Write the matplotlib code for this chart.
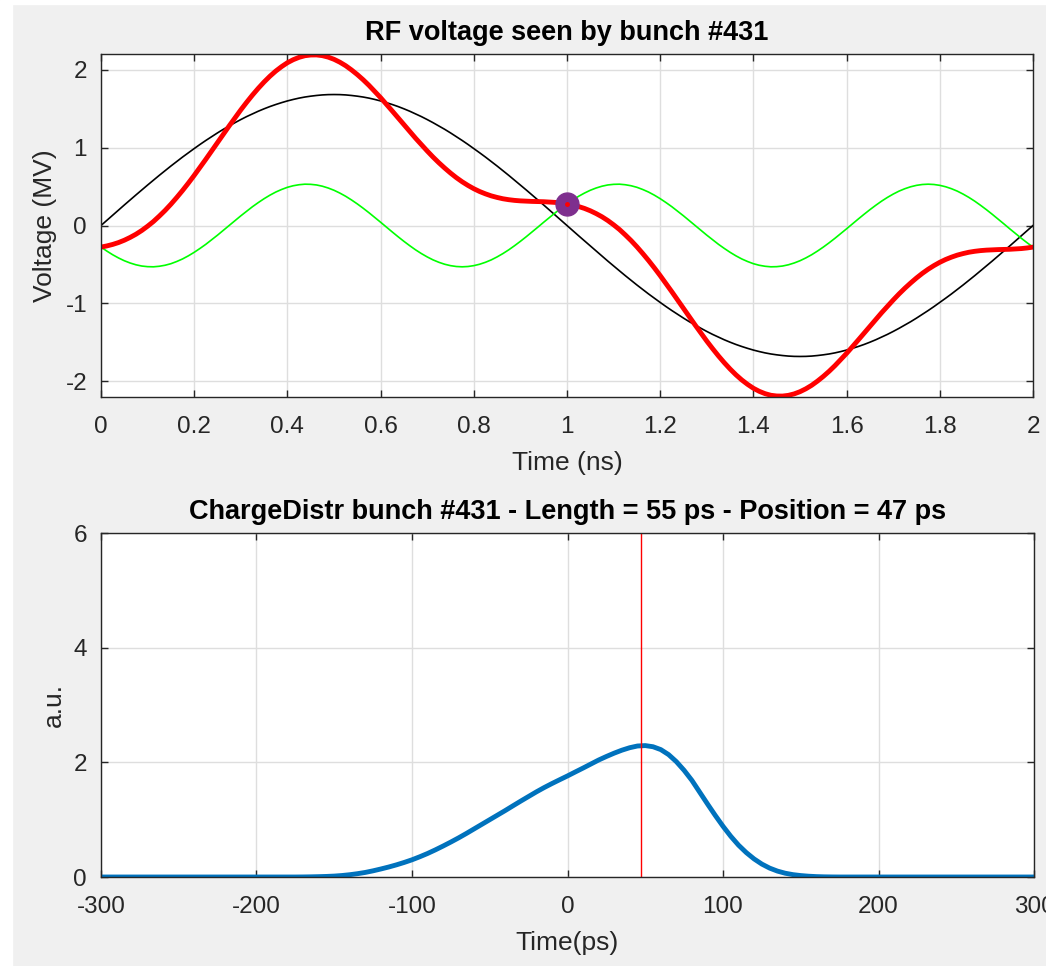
import matplotlib
matplotlib.use("Agg")
import matplotlib.pyplot as plt

plt.rcParams['font.family'] = ['Liberation Sans', 'DejaVu Sans']
plt.rcParams['axes.unicode_minus'] = False

# ---- data: RF voltage (top), sampled every 0.0125 ns ----
t_ns = [round(k * 0.0125, 4) for k in range(161)]
v_main = [0.000, 0.066, 0.132, 0.197, 0.263, 0.328, 0.392, 0.456, 0.519, 0.581,
          0.643, 0.703, 0.763, 0.821, 0.878, 0.933, 0.987, 1.040, 1.091, 1.140,
          1.188, 1.234, 1.277, 1.319, 1.359, 1.397, 1.432, 1.466, 1.497, 1.526,
          1.552, 1.576, 1.598, 1.617, 1.634, 1.648, 1.659, 1.668, 1.675, 1.679,
          1.680, 1.679, 1.675, 1.668, 1.659, 1.648, 1.634, 1.617, 1.598, 1.576,
          1.552, 1.526, 1.497, 1.466, 1.432, 1.397, 1.359, 1.319, 1.277, 1.234,
          1.188, 1.140, 1.091, 1.040, 0.987, 0.933, 0.878, 0.821, 0.763, 0.703,
          0.643, 0.581, 0.519, 0.456, 0.392, 0.328, 0.263, 0.197, 0.132, 0.066,
          0.000, -0.066, -0.132, -0.197, -0.263, -0.328, -0.392, -0.456, -0.519, -0.581,
          -0.643, -0.703, -0.763, -0.821, -0.878, -0.933, -0.987, -1.040, -1.091, -1.140,
          -1.188, -1.234, -1.277, -1.319, -1.359, -1.397, -1.432, -1.466, -1.497, -1.526,
          -1.552, -1.576, -1.598, -1.617, -1.634, -1.648, -1.659, -1.668, -1.675, -1.679,
          -1.680, -1.679, -1.675, -1.668, -1.659, -1.648, -1.634, -1.617, -1.598, -1.576,
          -1.552, -1.526, -1.497, -1.466, -1.432, -1.397, -1.359, -1.319, -1.277, -1.234,
          -1.188, -1.140, -1.091, -1.040, -0.987, -0.933, -0.878, -0.821, -0.763, -0.703,
          -0.643, -0.581, -0.519, -0.456, -0.392, -0.328, -0.263, -0.197, -0.132, -0.066,
          0.000]
v_harm = [-0.277, -0.328, -0.375, -0.416, -0.452, -0.481, -0.504, -0.520, -0.528, -0.530,
          -0.523, -0.510, -0.490, -0.462, -0.429, -0.389, -0.344, -0.294, -0.241, -0.183,
          -0.124, -0.062, 0.000, 0.062, 0.124, 0.183, 0.241, 0.294, 0.344, 0.389,
          0.429, 0.462, 0.490, 0.510, 0.523, 0.530, 0.528, 0.520, 0.504, 0.481,
          0.452, 0.416, 0.375, 0.328, 0.277, 0.222, 0.164, 0.103, 0.042, -0.021,
          -0.083, -0.144, -0.203, -0.259, -0.312, -0.360, -0.403, -0.441, -0.472, -0.497,
          -0.515, -0.526, -0.530, -0.526, -0.515, -0.497, -0.472, -0.441, -0.403, -0.360,
          -0.312, -0.259, -0.203, -0.144, -0.083, -0.021, 0.042, 0.103, 0.164, 0.222,
          0.277, 0.328, 0.375, 0.416, 0.452, 0.481, 0.504, 0.520, 0.528, 0.530,
          0.523, 0.510, 0.490, 0.462, 0.429, 0.389, 0.344, 0.294, 0.241, 0.183,
          0.124, 0.062, 0.000, -0.062, -0.124, -0.183, -0.241, -0.294, -0.344, -0.389,
          -0.429, -0.462, -0.490, -0.510, -0.523, -0.530, -0.528, -0.520, -0.504, -0.481,
          -0.452, -0.416, -0.375, -0.328, -0.277, -0.222, -0.164, -0.103, -0.042, 0.021,
          0.083, 0.144, 0.203, 0.259, 0.312, 0.360, 0.403, 0.441, 0.472, 0.497,
          0.515, 0.526, 0.530, 0.526, 0.515, 0.497, 0.472, 0.441, 0.403, 0.360,
          0.312, 0.259, 0.203, 0.144, 0.083, 0.021, -0.042, -0.103, -0.164, -0.222,
          -0.277]
v_total = [a + b for a, b in zip(v_main, v_harm)]
bunch_t = 1.0
bunch_v = 0.27

# ---- data: charge distribution (bottom) ----
t_ps = [-300, -250, -200, -175, -170, -165, -160, -155, -150, -145, -140, -135,
        -130, -125, -120, -115, -110, -105, -100, -95, -90, -85, -80, -75,
        -70, -65, -60, -55, -50, -45, -40, -35, -30, -25, -20, -15,
        -10, -5, 0, 5, 10, 15, 20, 25, 30, 35, 40, 45,
        50, 55, 60, 65, 70, 75, 80, 85, 90, 95, 100, 105,
        110, 115, 120, 125, 130, 135, 140, 145, 150, 155, 160, 165,
        170, 175, 200, 250, 300]
charge = [0, 0, 0, 0, 0.001, 0.003, 0.006, 0.010, 0.016, 0.026, 0.040, 0.058,
          0.080, 0.108, 0.140, 0.174, 0.212, 0.254, 0.300, 0.353, 0.410, 0.473, 0.540, 0.610,
          0.683, 0.760, 0.840, 0.920, 1.000, 1.080, 1.160, 1.243, 1.325, 1.405, 1.485, 1.560,
          1.630, 1.697, 1.763, 1.832, 1.900, 1.970, 2.040, 2.102, 2.160, 2.212, 2.255, 2.285,
          2.292, 2.272, 2.222, 2.135, 2.012, 1.860, 1.685, 1.480, 1.275, 1.075, 0.885, 0.710,
          0.555, 0.425, 0.315, 0.225, 0.155, 0.103, 0.066, 0.041, 0.025, 0.014, 0.007, 0.003,
          0.001, 0, 0, 0, 0]
position_ps = 47

fig = plt.figure(figsize=(10.46, 9.66), dpi=100)
fig.patch.set_facecolor('#f0f0f0')
# white screenshot border on left / top
fig.add_artist(plt.Rectangle((0, 0), 12 / 1046, 1, transform=fig.transFigure, color='white', zorder=0))
fig.add_artist(plt.Rectangle((0, 1 - 4 / 966), 1, 4 / 966, transform=fig.transFigure, color='white', zorder=0))

axcol = '#262626'
tick_fs = 17.5
label_fs = 19
title_fs = 19.5


def style(ax):
    ax.set_facecolor('white')
    for s in ax.spines.values():
        s.set_color(axcol)
        s.set_linewidth(1.0)
    ax.tick_params(direction='in', top=True, right=True, length=5, width=1,
                   colors=axcol, labelsize=tick_fs, labelcolor=axcol)
    ax.tick_params(axis='x', pad=14)
    ax.tick_params(axis='y', pad=10)
    ax.grid(True, color='#dedede', linewidth=1.0)
    ax.set_axisbelow(True)


ax1 = fig.add_axes([101 / 1046, 1 - 397 / 966, 932 / 1046, 343 / 966])
style(ax1)
ax1.plot(t_ns, v_main, color='black', lw=1.2)
ax1.plot(t_ns, v_harm, color='#00ff00', lw=1.2)
ax1.plot(t_ns, v_total, color='red', lw=3.5, solid_capstyle='round', solid_joinstyle='round')
ax1.plot([bunch_t], [bunch_v], 'o', color='#7E2F8E', markersize=16.5, zorder=5)
ax1.plot([bunch_t], [bunch_v], '.', color='red', markersize=5, zorder=6)
ax1.set_xlim(0, 2)
ax1.set_ylim(-2.2, 2.2)
ax1.set_xticks([0, 0.2, 0.4, 0.6, 0.8, 1, 1.2, 1.4, 1.6, 1.8, 2])
ax1.set_xticklabels(['0', '0.2', '0.4', '0.6', '0.8', '1', '1.2', '1.4', '1.6', '1.8', '2'])
ax1.set_yticks([-2, -1, 0, 1, 2])
ax1.set_yticklabels(['-2', '-1', '0', '1', '2'])
ax1.set_xlabel('Time (ns)', fontsize=label_fs, color=axcol)
ax1.xaxis.set_label_coords(0.5, -0.158)
ax1.set_ylabel('Voltage (MV)', fontsize=label_fs, color=axcol)
ax1.yaxis.set_label_coords(-0.047, 0.5)
ax1.set_title('RF voltage seen by bunch #431', fontsize=title_fs, fontweight='bold', pad=10)

ax2 = fig.add_axes([101 / 1046, 1 - 877 / 966, 933 / 1046, 344 / 966])
style(ax2)
ax2.plot(t_ps, charge, color='#0072BD', lw=3.5, solid_joinstyle='round')
ax2.axvline(position_ps, color='red', lw=1.0)
ax2.set_xlim(-300, 300)
ax2.set_ylim(0, 6)
ax2.set_xticks([-300, -200, -100, 0, 100, 200, 300])
ax2.set_yticks([0, 2, 4, 6])
ax2.set_xlabel('Time(ps)', fontsize=label_fs, color=axcol)
ax2.xaxis.set_label_coords(0.5, -0.158)
ax2.set_ylabel('a.u.', fontsize=label_fs, color=axcol)
ax2.yaxis.set_label_coords(-0.038, 0.5)
ax2.set_title('ChargeDistr bunch #431 - Length = 55 ps - Position = 47 ps',
              fontsize=title_fs, fontweight='bold', pad=10)

fig.savefig('out.png', dpi=100, facecolor=fig.get_facecolor())
